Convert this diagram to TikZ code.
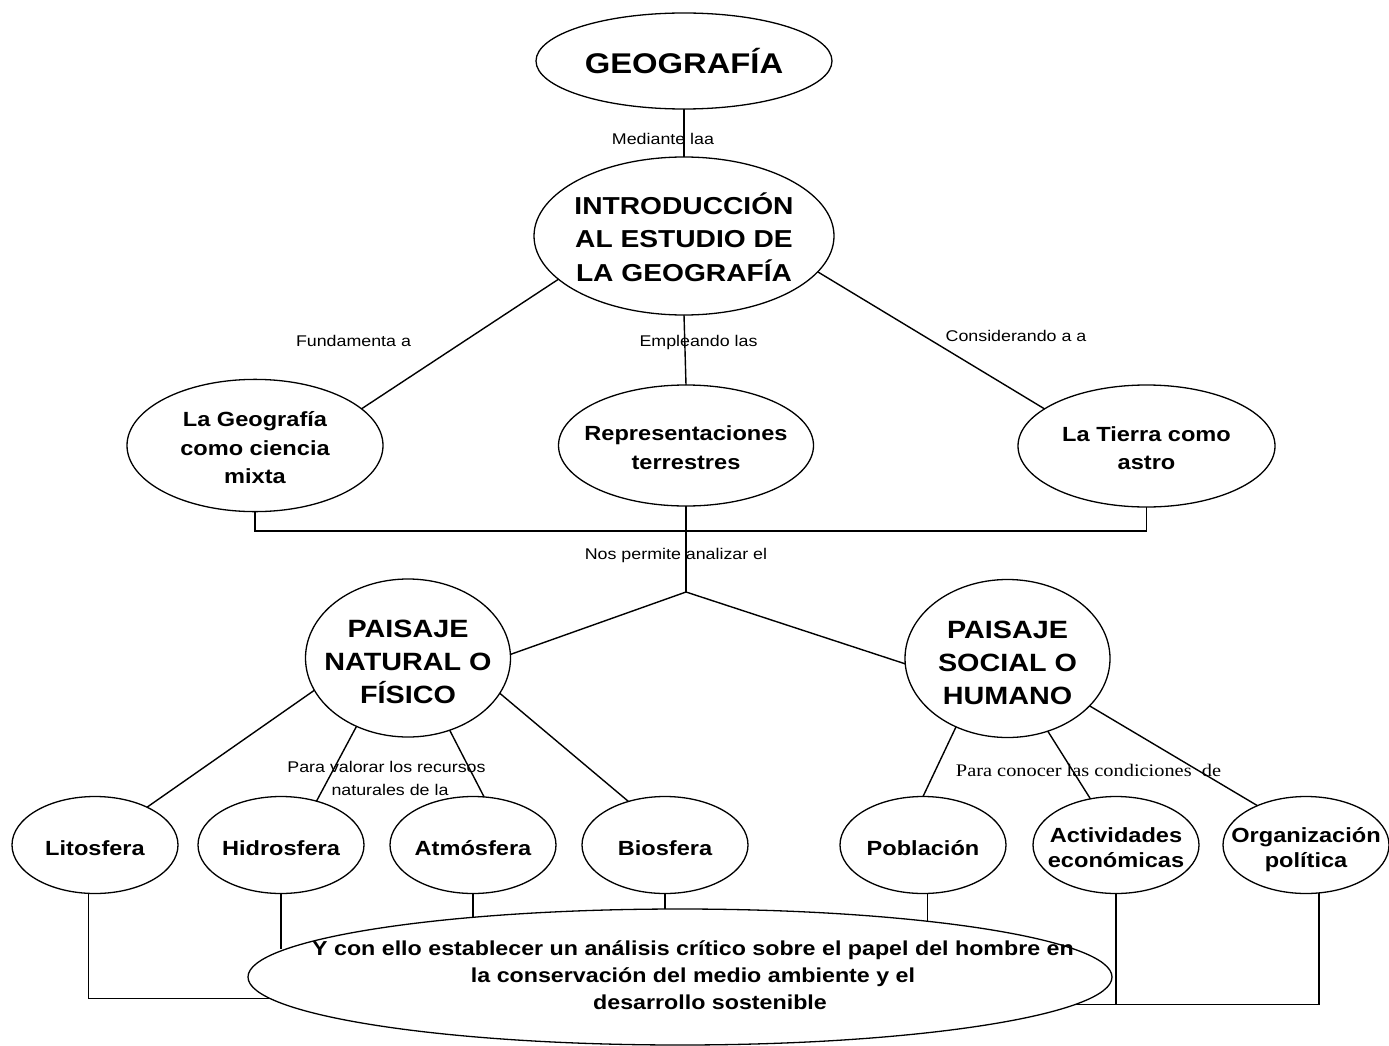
\documentclass[tikz,border=0pt]{standalone}
\usepackage{fontspec}
\setmainfont{Liberation Sans}[FakeStretch=1.15]
\newfontfamily\serifl{Liberation Serif}[FakeStretch=1.15]
\usetikzlibrary{shapes.geometric}
\newcommand\ctr[2][0pt]{\makebox[0pt]{\begin{tabular}{@{}c@{}}\rule{0pt}{\dimexpr\ht\strutbox+#1\relax}#2\end{tabular}}}
\tikzset{
  box/.style={draw, ellipse, inner sep=0pt, outer sep=0pt, line width=1.3pt},
  lnk/.style={line width=1.4pt},
  lbl/.style={font=\fontsize{15.5}{18}\selectfont, inner sep=0pt, anchor=base},
  big/.style={font=\bfseries\fontsize{20.5}{28.5}\selectfont},
  leaf/.style={box, minimum width=166pt, minimum height=97pt, font=\bfseries\fontsize{20.5}{25}\selectfont},
  land/.style={box, minimum width=205pt, minimum height=158pt, font=\bfseries\fontsize{25}{33}\selectfont},
}
\begin{document}
\begin{tikzpicture}[x=1pt,y=-1pt]
\useasboundingbox (0,0) rectangle (1389,1046);
% main nodes
\node[box, minimum width=296pt, minimum height=96pt, font=\bfseries\fontsize{28.5}{34}\selectfont] (geo) at (684,61) {\ctr[12pt]{GEOGRAFÍA}};
\node[box, minimum width=300pt, minimum height=158pt, font=\bfseries\fontsize{24.5}{33.5}\selectfont] (intro) at (684,236) {\ctr[10pt]{INTRODUCCIÓN\\AL ESTUDIO DE\\LA GEOGRAFÍA}};
\node[box, big, minimum width=256pt, minimum height=121pt] (geo2) at (255,445.5) {\ctr[8pt]{La Geografía\\como ciencia\\mixta}};
\node[box, big, minimum width=255pt, minimum height=121pt] (rep) at (686,445.5) {\ctr[8pt]{Representaciones\\terrestres}};
\node[box, big, minimum width=257pt, minimum height=122pt] (tierra) at (1146.5,446) {\ctr[8pt]{La Tierra como\\astro}};
\node[land] (nat) at (408,658) {\ctr[12pt]{PAISAJE\\NATURAL O\\FÍSICO}};
\node[land] (soc) at (1007.5,658.5) {\ctr[12pt]{PAISAJE\\SOCIAL O\\HUMANO}};
\node[leaf] (lito) at (95,845) {\ctr[10pt]{Litosfera}};
\node[leaf] (hidro) at (281,845) {\ctr[10pt]{Hidrosfera}};
\node[leaf] (atmo) at (473,845) {\ctr[10pt]{Atmósfera}};
\node[leaf] (bio) at (665,845) {\ctr[10pt]{Biosfera}};
\node[leaf] (pobl) at (923,845) {\ctr[10pt]{Población}};
\node[leaf] (activ) at (1116,845) {\ctr[10pt]{Actividades\\económicas}};
\node[leaf] (organ) at (1306,845) {\ctr[10pt]{Organización\\política}};
\node[box, minimum width=864pt, minimum height=136pt, font=\bfseries\fontsize{20.2}{27}\selectfont] (final) at (680,977)
  {\makebox[0pt]{\hspace*{26pt}\begin{tabular}{@{}c@{}}Y con ello establecer un análisis crítico sobre el papel del hombre en\\la conservación del medio ambiente y el\\\hspace*{34pt}desarrollo sostenible\end{tabular}}};
% helper points
\coordinate (bar) at (686,531);
\coordinate (split) at (686,592);
% connectors
\draw[lnk] (geo.south) -- (intro.north);
\draw[lnk] (intro.199.7) -- (geo2.19.3);
\draw[lnk] (intro.south) -- (rep.north);
\draw[lnk] (intro.345.96) -- (tierra.160.8);
\draw[lnk] (geo2.south) |- (bar) -| (tierra.south);
\draw[lnk] (rep.south) -- (split);
\draw[lnk] (split) -- (nat.2.8);
\draw[lnk] (split) -- (soc.183.1);
\draw[lnk] (nat.199.9) -- (lito.36.7);
\draw[lnk] (nat.233.4) -- (hidro.51.6);
\draw[lnk] (nat.300.3) -- (atmo.77);
\draw[lnk] (nat.339.4) -- (bio.130.7);
\draw[lnk] (soc.233) -- (pobl.north);
\draw[lnk] (soc.299.8) -- (activ.119);
\draw[lnk] (soc.330.9) -- (organ.141.9);
% bottom connectors
\draw[lnk] (lito.262.9) |- (final.183.56);
\draw[lnk] (hidro.south) -- (hidro.south |- final.176.32);
\draw[lnk] (atmo.south) -- (atmo.south |- final.164);
\draw[lnk] (bio.south) -- (bio.south |- final.103.25);
\draw[lnk] (pobl.275.9) -- (pobl.275.9 |- final.12.66);
\draw[lnk] (activ.south) -- (activ.south |- final.356.44);
\draw[lnk] (final.356.44) -| (organ.285.7);
% link labels
\node[lbl] (lmed) at (663,144) {Mediante laa};
\node[lbl] (lfun) at (353.5,346.5) {Fundamenta a};
\node[lbl] (lemp) at (698.5,346.5) {Empleando las};
\node[lbl] (lcon) at (1016,341.5) {Considerando a a};
\node[lbl] (lnos) at (676,559) {Nos permite analizar el};
\node[lbl] (lval1) at (386.5,772) {Para valorar los recursos};
\node[lbl] (lval2) at (390,795) {naturales de la};
\node[lbl, font=\serifl\fontsize{17.7}{20}\selectfont] (lcond) at (1088.5,776.7) {Para conocer las condiciones\ \ de};
\end{tikzpicture}
\end{document}
